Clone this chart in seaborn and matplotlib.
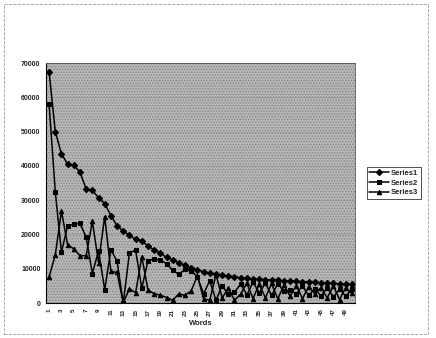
import numpy as np
import pandas as pd
import matplotlib
matplotlib.use("Agg")
import matplotlib.pyplot as plt
import seaborn as sns
from matplotlib.patches import Rectangle

words = list(range(1, 51))
series1 = [67500, 50000, 43500, 40500, 40200, 38200, 33200, 32900, 30700, 29000,
           25500, 22500, 21000, 19700, 18600, 18200, 16600, 15500, 14500, 13300,
           12600, 11700, 11000, 10300, 9700, 9100, 8700, 8400, 8100, 7900,
           7600, 7400, 7200, 7000, 6900, 6800, 6700, 6600, 6500, 6400,
           6300, 6200, 6100, 6000, 5900, 5800, 5700, 5600, 5500, 5400]
series2 = [58000, 32500, 14800, 22600, 22900, 23200, 19200, 8600, 15200, 3900,
           15500, 12200, 0, 14600, 15400, 4300, 12300, 12800, 12500, 11500,
           9500, 8400, 9800, 9400, 7600, 2700, 6500, 800, 5000, 2500,
           3200, 5500, 2400, 6000, 3000, 5800, 2200, 5600, 3500, 3800,
           2600, 5000, 2200, 4200, 2000, 4500, 1800, 4000, 2000, 4000]
series3 = [7600, 14000, 26800, 17000, 15800, 13800, 13800, 23800, 11800, 25200,
           9200, 8900, 0, 4200, 3000, 13500, 3800, 2700, 2300, 1600,
           800, 2700, 2200, 3600, 7900, 1200, 800, 8300, 1500, 4300,
           800, 2600, 5800, 1300, 5500, 1500, 5700, 1200, 5200, 2000,
           5100, 1300, 4800, 2700, 4500, 1500, 5000, 1000, 4500, 2800]
series_names = ["Series1", "Series2", "Series3"]
yticks = list(range(0, 70001, 10000))
xticks = list(range(1, 50, 2))

df = pd.DataFrame({
    "Words": words * 3,
    "value": series1 + series2 + series3,
    "series": [series_names[0]] * 50 + [series_names[1]] * 50 + [series_names[2]] * 50,
})

sns.set_style("white")
plt.rcParams["font.family"] = ["Liberation Sans", "DejaVu Sans"]
plt.rcParams["hatch.linewidth"] = 0.6

W, H = 436, 338
fig = plt.figure(figsize=(W / 100, H / 100), dpi=100)
ax = fig.add_axes([46 / W, 1 - 303 / H, (355 - 46) / W, (303 - 63) / H])
ax.set_facecolor("#b6b6b6")
ax.add_patch(Rectangle((0, 0), 1, 1, transform=ax.transAxes, facecolor="none",
                       edgecolor="#858585", hatch="......", linewidth=0, zorder=0))

sns.lineplot(data=df, x="Words", y="value", hue="series", style="series",
             palette=["black"] * 3, markers={"Series1": "D", "Series2": "s", "Series3": "^"},
             dashes=False, markersize=3.2, linewidth=1.1, markeredgecolor="black",
             ax=ax, legend=True)

ax.set_xlim(0.5, 50.5)
ax.set_ylim(0, 70000)
ax.set_yticks(yticks)
ax.set_yticklabels([str(v) for v in yticks], fontsize=5, fontweight="bold")
ax.set_xticks(xticks)
ax.set_xticklabels([str(v) for v in xticks], fontsize=4.5, fontweight="bold", rotation=90)
ax.tick_params(axis="both", length=2, pad=2, width=0.6)
ax.set_xlabel("Words", fontsize=5.5, fontweight="bold", labelpad=3)
ax.set_ylabel("")
ax.grid(axis="y", color="#6e6e6e", linewidth=0.5, linestyle=":")
ax.set_axisbelow(True)
for side in ["top", "right"]:
    ax.spines[side].set_color("#555555")
    ax.spines[side].set_linewidth(0.6)
for side in ["left", "bottom"]:
    ax.spines[side].set_color("black")
    ax.spines[side].set_linewidth(0.8)

leg = ax.legend(loc="center left", bbox_to_anchor=(1.025, 0.5), fontsize=5.5,
                frameon=True, fancybox=False, edgecolor="black", handlelength=2.6,
                borderpad=0.3, labelspacing=0.3, handletextpad=0.3)
leg.get_frame().set_linewidth(0.6)
for t in leg.get_texts():
    t.set_fontweight("bold")

fig.patches.append(Rectangle((4 / W, 4 / H), (428 - 4) / W, (334 - 4) / H,
                             transform=fig.transFigure, fill=False,
                             edgecolor="#9a9a9a", linewidth=0.6, linestyle="--"))

fig.savefig("out.png", dpi=100)
